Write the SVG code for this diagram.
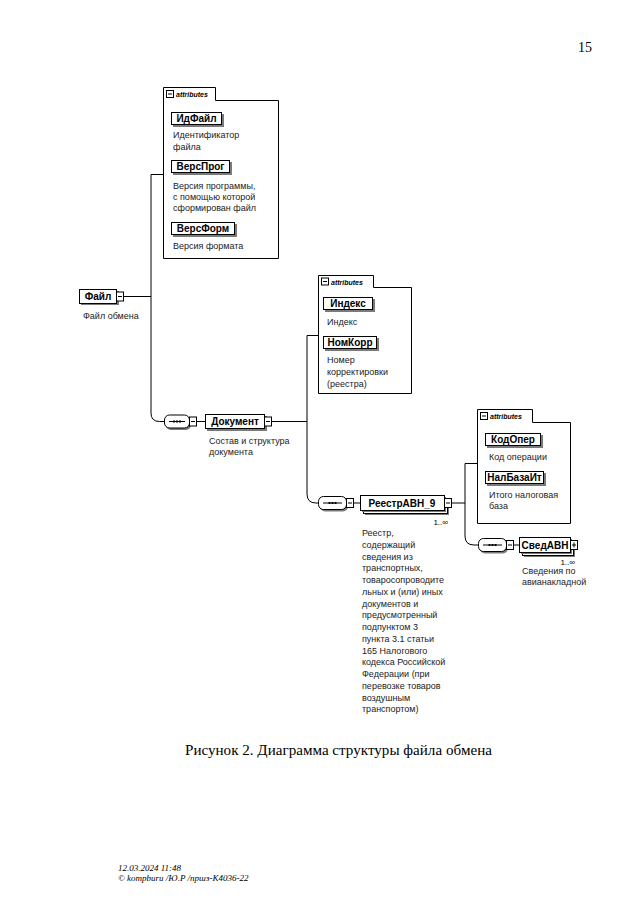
<svg xmlns="http://www.w3.org/2000/svg" width="640" height="921" viewBox="0 0 640 921">
<style>
.box{fill:#fff;stroke:#000;stroke-width:1}
.sh{fill:#7a7a7a}
.conn{fill:none;stroke:#000;stroke-width:1}
.lbl{font-family:"Liberation Sans",Arial,sans-serif;font-weight:bold;font-size:10px;text-anchor:middle;fill:#000}
.desc{font-family:"Liberation Sans",Arial,sans-serif;font-size:9px;fill:#222}
.tab{font-family:"Liberation Sans",Arial,sans-serif;font-style:italic;font-weight:bold;font-size:7px;fill:#000}
.occ{font-family:"Liberation Sans",Arial,sans-serif;font-size:8px;text-anchor:end;fill:#000}
.serif{font-family:"Liberation Serif","Times New Roman",serif;fill:#000}
.frame{fill:#fff;stroke:#000;stroke-width:1}
.mk{stroke:#000;stroke-width:1}
</style>
<rect width="640" height="921" fill="#fff"/>

<text class="serif" x="578" y="52" font-size="14">15</text>

<g id="connectors">
<path class="conn" d="M123.5,296.5 H151"/>
<path class="conn" d="M151,174.5 H163.5"/>
<path class="conn" d="M151,174.5 V413 Q151,421.5 159.5,421.5 H164.5"/>
<path class="conn" d="M196.5,421.5 H205.5"/>
<path class="conn" d="M271.5,421.5 H307"/>
<path class="conn" d="M307,335.5 H318.5"/>
<path class="conn" d="M307,335.5 V494 Q307,503 316,503 H318.5"/>
<path class="conn" d="M353.5,503 H360.5"/>
<path class="conn" d="M451.5,503 H465"/>
<path class="conn" d="M465,463.5 H477.5"/>
<path class="conn" d="M465,463.5 V536 Q465,545 474,545 H478.5"/>
<path class="conn" d="M513.5,545 H519.5"/>
</g>

<g id="attributes1">
<path class="frame" d="M163.5,258.5 V87.5 H215.5 V100.5 H278.5 V258.5 Z"/>
<rect class="box" x="166.5" y="90.5" width="7" height="7"/>
<line class="mk" x1="168" y1="94" x2="172" y2="94"/>
<text class="tab" x="176" y="97">attributes</text>
</g>
<g id="ИдФайл">
<rect class="sh" x="173" y="114" width="51" height="13"/>
<rect class="box" x="171.5" y="112.5" width="50" height="12"/>
<text class="lbl" x="196.5" y="122">ИдФайл</text>
<text class="desc" x="173" y="138">Идентификатор</text>
<text class="desc" x="173" y="150">файла</text>
</g>
<g id="ВерсПрог">
<rect class="sh" x="173" y="162" width="59" height="13"/>
<rect class="box" x="171.5" y="160.5" width="58" height="12"/>
<text class="lbl" x="200.5" y="170">ВерсПрог</text>
<text class="desc" x="173" y="189">Версия программы,</text>
<text class="desc" x="173" y="200">с помощью которой</text>
<text class="desc" x="173" y="211">сформирован файл</text>
</g>
<g id="ВерсФорм">
<rect class="sh" x="173" y="224" width="64" height="13"/>
<rect class="box" x="171.5" y="222.5" width="63" height="12"/>
<text class="lbl" x="203" y="232">ВерсФорм</text>
<text class="desc" x="173" y="249">Версия формата</text>
</g>

<g id="Файл">
<rect class="sh" x="81" y="291" width="38" height="14"/>
<rect class="box" x="79.5" y="289.5" width="37" height="14"/>
<text class="lbl" x="98" y="300">Файл</text>
<rect class="box" x="116.5" y="292" width="7" height="9"/>
<line class="mk" x1="118" y1="296.5" x2="122" y2="296.5"/>
<text class="desc" x="83" y="319">Файл обмена</text>
</g>

<g id="seq1">
<rect class="sh" x="166" y="417" width="25" height="13" rx="5"/>
<rect class="box" x="164.5" y="415" width="25" height="13" rx="5"/>
<line class="mk" x1="169" y1="421.5" x2="185" y2="421.5"/>
<rect x="173" y="420.5" width="2" height="2"/><rect x="176" y="420.5" width="2" height="2"/><rect x="179" y="420.5" width="2" height="2"/>
<rect class="box" x="189.5" y="417" width="7" height="9"/>
<line class="mk" x1="191" y1="421.5" x2="195" y2="421.5"/>
</g>

<g id="Документ">
<rect class="sh" x="207" y="416" width="60" height="15"/>
<rect class="box" x="205.5" y="414.5" width="59" height="14"/>
<text class="lbl" x="235" y="425">Документ</text>
<rect class="box" x="264.5" y="417" width="7" height="9"/>
<line class="mk" x1="266" y1="421.5" x2="270" y2="421.5"/>
<text class="desc" x="209" y="444">Состав и структура</text>
<text class="desc" x="209" y="455">документа</text>
</g>

<g id="attributes2">
<path class="frame" d="M318.5,393.5 V275.5 H373.5 V287.5 H411.5 V393.5 Z"/>
<rect class="box" x="321.5" y="278" width="7" height="7"/>
<line class="mk" x1="323" y1="281.5" x2="327" y2="281.5"/>
<text class="tab" x="331" y="284.5">attributes</text>
</g>
<g id="Индекс">
<rect class="sh" x="325" y="299" width="50" height="13"/>
<rect class="box" x="323.5" y="297.5" width="49" height="12"/>
<text class="lbl" x="348" y="307">Индекс</text>
<text class="desc" x="327" y="325">Индекс</text>
</g>
<g id="НомКорр">
<rect class="sh" x="325" y="338" width="54" height="13"/>
<rect class="box" x="323.5" y="336.5" width="53" height="12"/>
<text class="lbl" x="350" y="346">НомКорр</text>
<text class="desc" x="327" y="363">Номер</text>
<text class="desc" x="327" y="375">корректировки</text>
<text class="desc" x="327" y="387">(реестра)</text>
</g>

<g id="seq2">
<rect class="sh" x="320" y="498.5" width="28" height="13" rx="5"/>
<rect class="box" x="318.5" y="496.5" width="28" height="13" rx="5"/>
<line class="mk" x1="323" y1="503" x2="342" y2="503"/>
<rect x="328.5" y="502" width="2" height="2"/><rect x="331.5" y="502" width="2" height="2"/><rect x="334.5" y="502" width="2" height="2"/>
<rect class="box" x="346.5" y="498.5" width="7" height="9"/>
<line class="mk" x1="348" y1="503" x2="352" y2="503"/>
</g>

<g id="РеестрАВН_9">
<rect class="sh" x="365" y="500" width="84" height="15"/>
<rect class="box" x="363.5" y="498.5" width="84" height="15"/>
<rect class="sh" x="362" y="497" width="84" height="15"/>
<rect class="box" x="360.5" y="495.5" width="84" height="15"/>
<text class="lbl" x="402" y="507">РеестрАВН_9</text>
<rect class="box" x="444.5" y="498.5" width="7" height="9"/>
<line class="mk" x1="446" y1="503" x2="450" y2="503"/>
<text class="occ" x="448" y="525">1..∞</text>
<text class="desc" x="362">
<tspan x="362" y="536">Реестр,</tspan>
<tspan x="362" dy="11.75">содержащий</tspan>
<tspan x="362" dy="11.75">сведения из</tspan>
<tspan x="362" dy="11.75">транспортных,</tspan>
<tspan x="362" dy="11.75">товаросопроводите</tspan>
<tspan x="362" dy="11.75">льных и (или) иных</tspan>
<tspan x="362" dy="11.75">документов и</tspan>
<tspan x="362" dy="11.75">предусмотренный</tspan>
<tspan x="362" dy="11.75">подпунктом 3</tspan>
<tspan x="362" dy="11.75">пункта 3.1 статьи</tspan>
<tspan x="362" dy="11.75">165 Налогового</tspan>
<tspan x="362" dy="11.75">кодекса Российской</tspan>
<tspan x="362" dy="11.75">Федерации (при</tspan>
<tspan x="362" dy="11.75">перевозке товаров</tspan>
<tspan x="362" dy="11.75">воздушным</tspan>
<tspan x="362" dy="11.75">транспортом)</tspan>
</text>
</g>

<g id="attributes3">
<path class="frame" d="M477.5,523.5 V409.5 H532.5 V422.5 H570.5 V523.5 Z"/>
<rect class="box" x="480.5" y="412.5" width="7" height="7"/>
<line class="mk" x1="482" y1="416" x2="486" y2="416"/>
<text class="tab" x="490" y="419">attributes</text>
</g>
<g id="КодОпер">
<rect class="sh" x="487" y="435" width="56" height="13"/>
<rect class="box" x="485.5" y="433.5" width="55" height="12"/>
<text class="lbl" x="513" y="443">КодОпер</text>
<text class="desc" x="489" y="460">Код операции</text>
</g>
<g id="НалБазаИт">
<rect class="sh" x="487" y="473" width="59" height="13"/>
<rect class="box" x="485.5" y="471.5" width="58" height="12"/>
<text class="lbl" x="514.5" y="481">НалБазаИт</text>
<text class="desc" x="489" y="498">Итого налоговая</text>
<text class="desc" x="489" y="509">база</text>
</g>

<g id="seq3">
<rect class="sh" x="480" y="540.5" width="28" height="13" rx="5"/>
<rect class="box" x="478.5" y="538.5" width="28" height="13" rx="5"/>
<line class="mk" x1="483" y1="545" x2="502" y2="545"/>
<rect x="488.5" y="544" width="2" height="2"/><rect x="491.5" y="544" width="2" height="2"/><rect x="494.5" y="544" width="2" height="2"/>
<rect class="box" x="506.5" y="540.5" width="7" height="9"/>
<line class="mk" x1="508" y1="545" x2="512" y2="545"/>
</g>

<g id="СведАВН">
<rect class="sh" x="524" y="542" width="51" height="15"/>
<rect class="box" x="522.5" y="540.5" width="51" height="15"/>
<rect class="sh" x="521" y="539" width="51" height="15"/>
<rect class="box" x="519.5" y="537.5" width="51" height="15"/>
<text class="lbl" x="545" y="549">СведАВН</text>
<rect class="box" x="570.5" y="540.5" width="7" height="9"/>
<line class="mk" x1="572" y1="545" x2="576" y2="545"/>
<line class="mk" x1="574" y1="542.5" x2="574" y2="547.5"/>
<text class="occ" x="575" y="565">1..∞</text>
<text class="desc" x="522" y="574">Сведения по</text>
<text class="desc" x="522" y="585">авианакладной</text>
</g>

<text class="serif" x="185" y="755" font-size="15.5" textLength="307" lengthAdjust="spacingAndGlyphs">Рисунок 2. Диаграмма структуры файла обмена</text>

<text class="serif" x="118" y="871" font-size="9" font-style="italic" fill="#444">12.03.2024 11:48</text>
<text class="serif" x="118" y="881" font-size="9" font-style="italic" fill="#444">© kompburu /Ю.Р /пршз-К4036-22</text>
</svg>
